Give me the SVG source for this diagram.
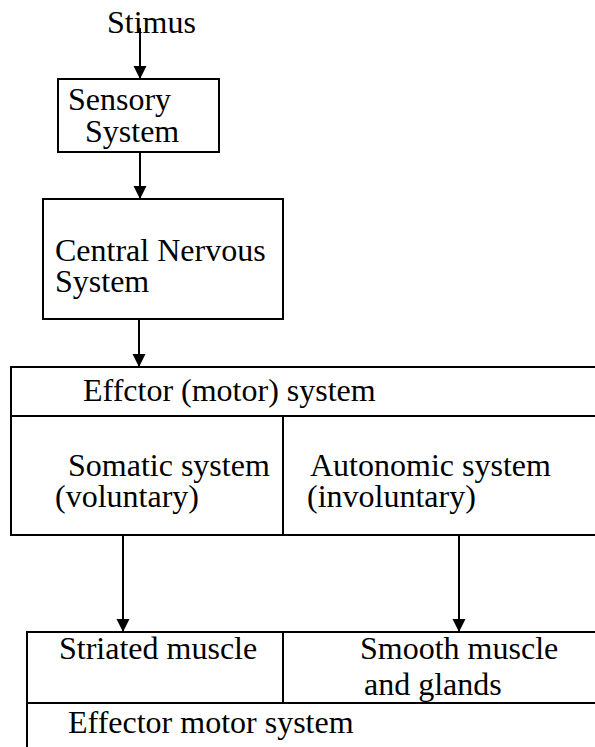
<svg xmlns="http://www.w3.org/2000/svg" width="595" height="747" viewBox="0 0 595 747">
<style>
text{font-family:"Liberation Serif","Times New Roman",serif;font-size:32px;fill:#000}
.b{fill:none;stroke:#000;stroke-width:2}
.c{stroke:#000;stroke-width:2;fill:none}
</style>
<defs>
<marker id="ah" markerUnits="userSpaceOnUse" markerWidth="14" markerHeight="14" refX="13" refY="7" orient="auto">
<path d="M0,0.5 L13,7 L0,13.5 Z" fill="#000"/>
</marker>
</defs>
<rect width="595" height="747" fill="#fff"/>
<g id="stimus"><text x="107" y="33">Stimus</text></g>
<g id="sensory">
<rect class="b" x="58" y="79" width="161" height="73"/>
<text x="68" y="110">Sensory</text>
<text x="85" y="142">System</text>
</g>
<g id="cns">
<rect class="b" x="43" y="199" width="240" height="120"/>
<text x="55" y="261">Central Nervous</text>
<text x="55" y="292">System</text>
</g>
<g id="effector">
<path class="b" d="M600,367 H11 V535 H600 M11,416 H600 M283,416 V535"/>
<text x="83" y="401">Effctor (motor) system</text>
<text x="68" y="476">Somatic system</text>
<text x="55" y="507">(voluntary)</text>
<text x="310" y="476">Autonomic system</text>
<text x="307" y="507">(involuntary)</text>
</g>
<g id="muscles">
<path class="b" d="M600,632 H27 V750 M27,703 H600 M283,632 V703"/>
<text x="59" y="659">Striated muscle</text>
<text x="360" y="659">Smooth muscle</text>
<text x="364" y="695">and glands</text>
<text x="68" y="733">Effector motor system</text>
</g>
<g id="connectors">
<line class="c" x1="140" y1="28" x2="140" y2="79" marker-end="url(#ah)"/>
<line class="c" x1="140" y1="152" x2="140" y2="199" marker-end="url(#ah)"/>
<line class="c" x1="139" y1="319" x2="139" y2="367" marker-end="url(#ah)"/>
<line class="c" x1="123" y1="535" x2="123" y2="632" marker-end="url(#ah)"/>
<line class="c" x1="459" y1="535" x2="459" y2="632" marker-end="url(#ah)"/>
</g>
</svg>
